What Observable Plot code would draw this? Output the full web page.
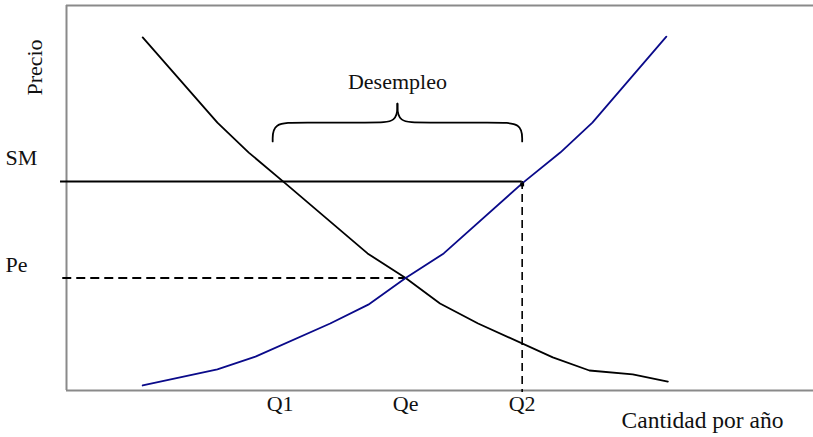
<!DOCTYPE html>
<html>
<head>
<meta charset="utf-8">
<script src="https://cdn.jsdelivr.net/npm/d3@7"></script>
<script src="https://cdn.jsdelivr.net/npm/@observablehq/plot@0.6"></script>
<style>
  html, body { margin: 0; padding: 0; background: #fff; }
</style>
</head>
<body>
<div id="chart"></div>
<script>
// Supply curve (navy), quantity vs price (0–100 units)
const supplyQ = [10.2, 20.2, 25.3, 35.3, 40.4, 45.4, 50.5, 61.0, 66.1, 70.4, 80.3];
const supplyP = [1.3, 5.5, 8.8, 17.4, 22.3, 29.2, 35.6, 53.8, 61.8, 69.6, 91.9];
// Demand curve (black)
const demandQ = [10.2, 20.2, 24.4, 29.3, 40.3, 45.4, 50.0, 55.1, 65.1, 70.0, 75.8, 80.5];
const demandP = [91.7, 69.6, 61.8, 53.8, 35.6, 29.2, 22.6, 17.4, 8.6, 5.2, 4.2, 2.3];
// Reference levels
const SM = 54.3, Pe = 29.2;
const Q1 = 28.6, Qe = 45.4, Q2 = 61.0;
const qLabels = ["Q1", "Qe", "Q2"];
const qValues = [Q1, Qe, Q2];
// Brace (control points for a B-spline)
const braceLeftQ = [27.6, 27.6, 31.3, 41.0, 44.3, 44.3];
const braceLeftP = [64.7, 69.6, 69.6, 69.6, 69.6, 74.5];
const braceRightQ = [44.3, 44.3, 47.7, 57.3, 61.0, 61.0];
const braceRightP = [74.5, 69.6, 69.6, 69.6, 69.6, 64.7];

const supply = supplyQ.map((q, i) => ({q, p: supplyP[i]}));
const demand = demandQ.map((q, i) => ({q, p: demandP[i]}));
const braceL = braceLeftQ.map((q, i) => ({q, p: braceLeftP[i]}));
const braceR = braceRightQ.map((q, i) => ({q, p: braceRightP[i]}));

const font = "'Liberation Serif', 'Times New Roman', serif";
const gray = "#8a8a8a";

const chart = Plot.plot({
  width: 813,
  height: 437,
  marginLeft: 66,
  marginRight: 0,
  marginTop: 5,
  marginBottom: 47,
  style: {fontFamily: font, background: "#fff", color: "#111"},
  x: {domain: [0, 100], axis: null},
  y: {domain: [0, 100], axis: null},
  marks: [
    Plot.ruleY([0, 100], {stroke: gray, strokeWidth: 2}),
    Plot.ruleX([0], {stroke: gray, strokeWidth: 2}),
    // SM horizontal line
    Plot.ruleY([SM], {x1: -0.8, x2: Q2, stroke: "#000", strokeWidth: 2}),
    // Pe dashed line
    Plot.ruleY([Pe], {x1: -0.5, x2: Qe, stroke: "#000", strokeWidth: 2, strokeDasharray: "9,5"}),
    // Q2 vertical dashed
    Plot.ruleX([Q2], {y1: SM, y2: -0.5, stroke: "#000", strokeWidth: 1.6, strokeDasharray: "8,5"}),
    Plot.line(demand, {x: "q", y: "p", stroke: "#000", strokeWidth: 1.8}),
    Plot.line(supply, {x: "q", y: "p", stroke: "#0a0a8a", strokeWidth: 1.8}),
    Plot.dot([{q: Q2, p: SM}], {x: "q", y: "p", symbol: "square", r: 2.2, fill: "#000", dy: 3}),
    // Brace
    Plot.line(braceL, {x: "q", y: "p", curve: "basis", stroke: "#000", strokeWidth: 1.8}),
    Plot.line(braceR, {x: "q", y: "p", curve: "basis", stroke: "#000", strokeWidth: 1.8}),
    Plot.text(["Desempleo"], {x: 44.3, y: 74.5, dy: -22, fontSize: 22, fill: "#111", lineAnchor: "middle"}),
    // Price labels
    Plot.text(["SM"], {y: SM, frameAnchor: "left", dx: -61, dy: -23, textAnchor: "start", lineAnchor: "middle", fontSize: 22, fill: "#111"}),
    Plot.text(["Pe"], {y: Pe, frameAnchor: "left", dx: -61, dy: -13, textAnchor: "start", lineAnchor: "middle", fontSize: 22, fill: "#111"}),
    // Quantity labels
    Plot.text(qLabels, {x: (d, i) => qValues[i], frameAnchor: "bottom", dy: 5, lineAnchor: "top", fontSize: 22, fill: "#111"}),
    // Axis titles
    Plot.text(["Cantidad por año"], {frameAnchor: "bottom-right", dx: -111, dy: 30, textAnchor: "middle", lineAnchor: "middle", fontSize: 23.5, fill: "#111"}),
    Plot.text(["Precio"], {frameAnchor: "top-left", dx: -32, dy: 62, rotate: -90, textAnchor: "middle", lineAnchor: "middle", fontSize: 22, fill: "#111"})
  ]
});
document.getElementById("chart").appendChild(chart);
</script>
</body>
</html>
